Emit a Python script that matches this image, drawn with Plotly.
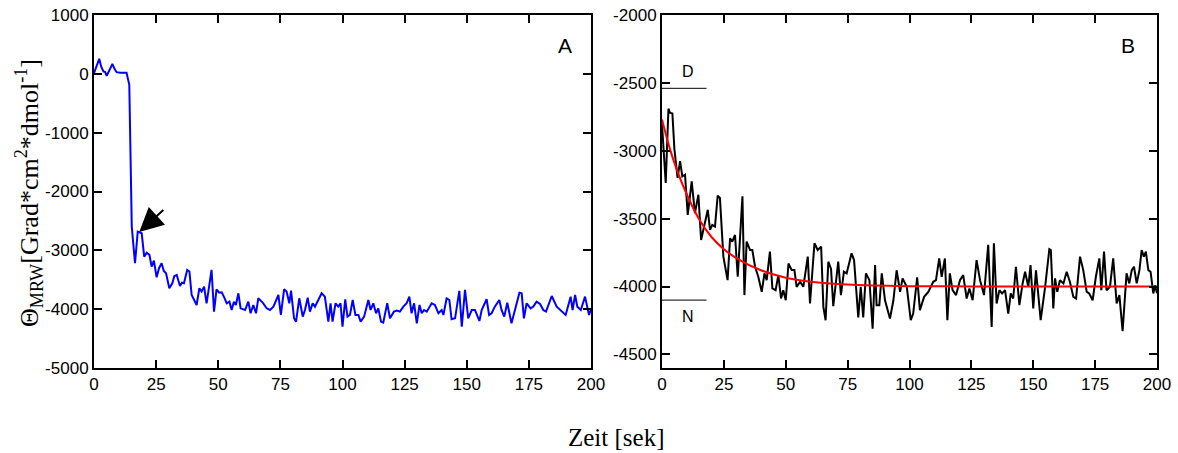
import plotly.graph_objects as go

# ---------------- data ----------------
# Panel A (blue): time [s] and molar ellipticity
a_time = [0, 2.1, 2.9, 3.8, 4.5, 5.1, 6.2, 7.4, 8.3, 9.1, 10.5, 12, 13.1, 14.2, 15.2, 16.5,
          17.6, 19.2, 20.2, 21.2, 22.3, 23.2, 24.1, 25.2, 26.2, 27.2, 28.1, 29.0, 30.3, 31.5,
          32.3, 33.3, 34.6, 35.4, 36.2, 37.5, 38.4, 39.3, 40.3, 41.3, 42.4, 43.3, 44.3, 45.3,
          46.3, 47.3, 48.3, 49.3, 50.4, 51.4, 52.4, 53.4, 54.5, 55.4, 56.3, 57.1, 58.1, 59.0,
          60.8, 62.1, 63.0, 64.1, 65.2, 66.1, 67.9, 69.5, 70.8, 72.2, 74.2, 75.2, 76.5, 77.5,
          78.6, 79.3, 80.5, 81.3, 82.6, 84.0, 84.9, 86.0, 86.9, 88.0, 88.9, 89.6, 91.6, 92.9,
          94.3, 95.2, 96.0, 97.2, 98.3, 99.2, 100.0, 101.1, 102.0, 103.0, 104.1, 105.2, 106.4,
          107.3, 108.7, 110.4, 111.3, 112.4, 113.5, 114.4, 115.5, 116.4, 118.0, 119.1, 120.7,
          121.8, 123.1, 124.5, 125.8, 126.9, 127.8, 128.8, 129.9, 131.0, 131.9, 132.8, 133.9,
          135.9, 137.2, 138.6, 139.9, 140.6, 141.9, 143.0, 143.9, 145.3, 147.0, 148.0, 149.3,
          150.6, 152.0, 153.3, 155.1, 156.0, 158.0, 159.0, 160.0, 161.3, 163.1, 164.0, 165.1,
          166.3, 168.0, 169.4, 171.2, 172.1, 173.0, 174.1, 175.7, 176.8, 178.1, 179.5, 180.8,
          181.9, 184.2, 186.2, 187.5, 189.8, 190.9, 191.8, 192.6, 193.6, 194.5, 195.9, 197.6,
          198.5, 199.2, 199.9]
a_theta = [10, 255, 120, 40, 30, -34, 60, 170, 80, 28, 20, 20, 17, -187, -2596, -3220,
           -2682, -2710, -3107, -3040, -3078, -3277, -3175, -3458, -3300, -3220, -3350, -3390, -3645, -3560,
           -3440, -3418, -3605, -3550, -3560, -3333, -3361, -3759, -3850, -3929, -3645, -3702, -3617, -3900,
           -3620, -3333, -4042, -3662, -3720, -3713, -3800, -3900, -3872, -4014, -3872, -3929, -3730, -3986,
           -4014, -3872, -4070, -3929, -4070, -3815, -3889, -3986, -4014, -3957, -3759, -4099, -3662, -3702,
           -3900, -3685, -4155, -4212, -3815, -4127, -4014, -3804, -4042, -3900, -3957, -3900, -3730, -3787,
           -4212, -3900, -4212, -3900, -3957, -3900, -4297, -3832, -4127, -4099, -3844, -4099, -4099,
           -4212, -4127, -3844, -4014, -3900, -4070, -3986, -4212, -4229, -3900, -4155, -4042,
           -4025, -4042, -3957, -3900, -3787, -4070, -3900, -4240, -3929, -4070, -4014, -4042,
           -3900, -3929, -4070, -4014, -4099, -3815, -3844, -4172, -4155, -3690, -4297, -3673,
           -4155, -4014, -4014, -4200, -4014, -3832, -4099, -4070, -3957, -3844, -4014, -4127,
           -3890, -4240, -4014, -3719, -3730, -4155, -3900, -3986, -3957, -3872, -3912, -4014,
           -4042, -3776, -3957, -4014, -4099, -3929, -3787, -4014, -3759, -3957, -4014, -3787,
           -3986, -4099, -4014]

# Panel B (black): time [s] and molar ellipticity
b_time = [0.0, 1.5, 2.6, 3.2, 4.2, 5.0, 6.3, 7.3, 8.2, 9.3, 10.4, 12.0, 13.3, 14.7, 15.8, 17.1,
          18.5, 19.4, 20.3, 21.4, 22.5, 23.4, 24.8, 26.5, 27.5, 28.4, 29.5, 30.6, 32.5, 33.3,
          34.2, 35.6, 36.5, 37.6, 38.9, 40.3, 41.4, 42.3, 43.6, 44.6, 45.9, 47.0, 48.1, 49.0,
          50.0, 51.1, 52.4, 53.5, 54.4, 55.8, 57.1, 58.9, 59.8, 61.6, 62.9, 64.3, 65.2, 66.1,
          67.2, 68.3, 69.2, 71.2, 72.3, 73.5, 74.6, 76.6, 77.6, 79.3, 80.3, 81.3, 82.4, 83.8,
          85.1, 86.1, 86.7, 87.8, 88.8, 90.1, 92.1, 93.5, 94.8, 96.2, 97.2, 98.9, 100.5, 101.5,
          103.1, 104.2, 105.9, 107.6, 109.6, 110.7, 112.0, 113.0, 114.3, 115.3, 116.3, 117.4,
          118.8, 120.4, 121.7, 123.1, 124.2, 125.5, 127.1, 128.5, 130.1, 131.8, 133.2, 134.1,
          135.2, 136.3, 137.4, 138.6, 139.9, 140.9, 141.9, 143.0, 144.4, 145.7, 146.7, 148.0,
          148.9, 150.0, 151.1, 153.0, 154.8, 156.5, 157.1, 158.1, 158.8, 159.7, 160.8, 162.2,
          163.5, 164.8, 166.2, 167.3, 168.9, 170.2, 171.6, 172.6, 174.0, 175.3, 176.7, 177.5,
          178.6, 179.6, 181.0, 182.3, 183.7, 184.8, 186.1, 187.7, 188.8, 189.8, 190.7, 191.8,
          192.9, 193.8, 194.7, 195.5, 196.5, 197.4, 198.5, 199.2, 200.0]
b_theta = [-2806, -3237, -2690, -2720, -2725, -2986, -3200, -3077, -3188, -3176, -3472, -3225, -3459, -3324, -3657, -3558,
           -3435, -3583, -3546, -3558, -3331, -3348, -3780, -3953, -3644, -3669, -3620, -3928, -3336, -4063,
           -3669, -3731, -3731, -3854, -3928, -4039, -3903, -3953, -3743, -4014, -4027, -3916, -4088, -4027,
           -4101, -3830, -3879, -3879, -4002, -3965, -4002, -3780, -4125, -3681, -3731, -3706, -4150, -4248,
           -3817, -3870, -4145, -3817, -4063, -3891, -3903, -3755, -3805, -4228, -4002, -4228, -3903, -3953,
           -4310, -3842, -4137, -4137, -3903, -4101, -4236, -4101, -3880, -4039, -3940, -4002, -4248, -4199,
           -3933, -4174, -4076, -4039, -3965, -3953, -3793, -3928, -3793, -4248, -3903, -4027,
           -4063, -3953, -3916, -4088, -4014, -4101, -3805, -3953, -4063, -3693, -4298, -3681,
           -4125, -4027, -4051, -4027, -4199, -4051, -4088, -3854, -4137, -3977, -3891, -4002,
           -3842, -4162, -3880, -4248, -4002, -3725, -3731, -4162, -3940, -4039, -3953, -3977,
           -3891, -3965, -4076, -4088, -3780, -3879, -4039, -4051, -4101, -3928, -3793, -4027,
           -3743, -4027, -4002, -3793, -4125, -4063, -4329, -3903, -3977, -3879, -3854, -3977,
           -3879, -3731, -3780, -3743, -3879, -3891, -4051, -3990, -4050]

# Panel B (red): exponential fit
fit_time = [0, 3, 6, 10, 15, 20, 25, 30, 40, 50, 60, 75, 100, 125, 150, 175, 200]
fit_theta = [-2770, -2975, -3140, -3320, -3505, -3635, -3725, -3790, -3880, -3935, -3964, -3985, -3997, -3999, -4000, -4000, -4000]

# Reference levels in panel B (denatured D / native N)
level_span = [0, 18]
level_d = -2540
level_n = -4100

# Tick labels
x_ticks = [0, 25, 50, 75, 100, 125, 150, 175, 200]
a_yticks = [1000, 0, -1000, -2000, -3000, -4000, -5000]
a_yticklabels = ["1000", "0", "-1000", "-2000", "-3000", "-4000", "-5000"]
b_yticks = [-2000, -2500, -3000, -3500, -4000, -4500]
b_yticklabels = ["-2000", "-2500", "-3000", "-3500", "-4000", "-4500"]

# ---------------- figure ----------------
W, H = 1178, 453
fig = go.Figure()

fig.add_trace(go.Scatter(x=a_time, y=a_theta, mode="lines",
                         line=dict(color="#0000ff", width=2), xaxis="x", yaxis="y",
                         showlegend=False))
fig.add_trace(go.Scatter(x=b_time, y=b_theta, mode="lines",
                         line=dict(color="#000000", width=2), xaxis="x2", yaxis="y2",
                         showlegend=False))
fig.add_trace(go.Scatter(x=fit_time, y=fit_theta, mode="lines",
                         line=dict(color="#ff0000", width=2, shape="spline"),
                         xaxis="x2", yaxis="y2", showlegend=False))
for lv in (level_d, level_n):
    fig.add_trace(go.Scatter(x=level_span, y=[lv, lv], mode="lines",
                             line=dict(color="#000000", width=1), xaxis="x2", yaxis="y2",
                             showlegend=False, cliponaxis=False))

tickfont = dict(family="Liberation Sans, Arial, sans-serif", size=17, color="#000")
axis_common = dict(showline=True, linecolor="#000", linewidth=2, mirror="ticks",
                   ticks="inside", ticklen=8, tickwidth=2, tickcolor="#000",
                   showgrid=False, zeroline=False, tickfont=tickfont, automargin=False)

ydom = [(H - 368) / H, (H - 15) / H]
fig.update_layout(
    template="none",
    width=W, height=H,
    margin=dict(l=0, r=0, t=0, b=0, pad=0),
    paper_bgcolor="white", plot_bgcolor="white",
    font=dict(family="Liberation Sans, Arial, sans-serif", color="#000"),
    xaxis=dict(domain=[94 / W, 591 / W], range=[0, 200], tickvals=x_ticks,
               anchor="y", **axis_common),
    yaxis=dict(domain=ydom, range=[-5000, 1000], tickvals=a_yticks,
               ticktext=a_yticklabels, anchor="x", **axis_common),
    xaxis2=dict(domain=[662 / W, 1157 / W], range=[0, 200], tickvals=x_ticks,
                anchor="y2", **axis_common),
    yaxis2=dict(domain=ydom, range=[-4600, -2000], tickvals=b_yticks,
                ticktext=b_yticklabels, anchor="x2", **axis_common),
)

serif = "Liberation Serif, Times New Roman, serif"
sans = "Liberation Sans, Arial, sans-serif"
annotations = [
    dict(text="Θ<sub>MRW</sub>[Grad*cm<sup>2</sup>*dmol<sup>-1</sup>]", xref="paper", yref="paper",
         x=29 / W, y=1 - 193 / H, textangle=-90, showarrow=False,
         font=dict(family=serif, size=26, color="#000"), xanchor="center", yanchor="middle"),
    dict(text="Zeit [sek]", xref="paper", yref="paper", x=616 / W, y=1 - 437 / H,
         showarrow=False, font=dict(family=serif, size=25, color="#000"),
         xanchor="center", yanchor="middle"),
    dict(text="A", xref="paper", yref="paper", x=565 / W, y=1 - 46 / H, showarrow=False,
         font=dict(family=sans, size=21, color="#000"), xanchor="center", yanchor="middle"),
    dict(text="B", xref="paper", yref="paper", x=1128 / W, y=1 - 46 / H, showarrow=False,
         font=dict(family=sans, size=21, color="#000"), xanchor="center", yanchor="middle"),
    dict(text="D", xref="x2", yref="y2", x=10.5, y=-2414, showarrow=False,
         font=dict(family=sans, size=16, color="#000")),
    dict(text="N", xref="x2", yref="y2", x=10.5, y=-4219, showarrow=False,
         font=dict(family=sans, size=16, color="#000")),
    dict(text="", xref="x", yref="y", x=18.2, y=-2690, axref="x", ayref="y",
         ax=28.5, ay=-2290, showarrow=True, arrowhead=2, arrowsize=2.4, arrowwidth=2,
         arrowcolor="#000"),
]
fig.update_layout(annotations=annotations)

fig.write_html("out.html", config={"displayModeBar": False},
               post_script="document.body.style.margin='0';document.body.style.overflow='hidden';")
